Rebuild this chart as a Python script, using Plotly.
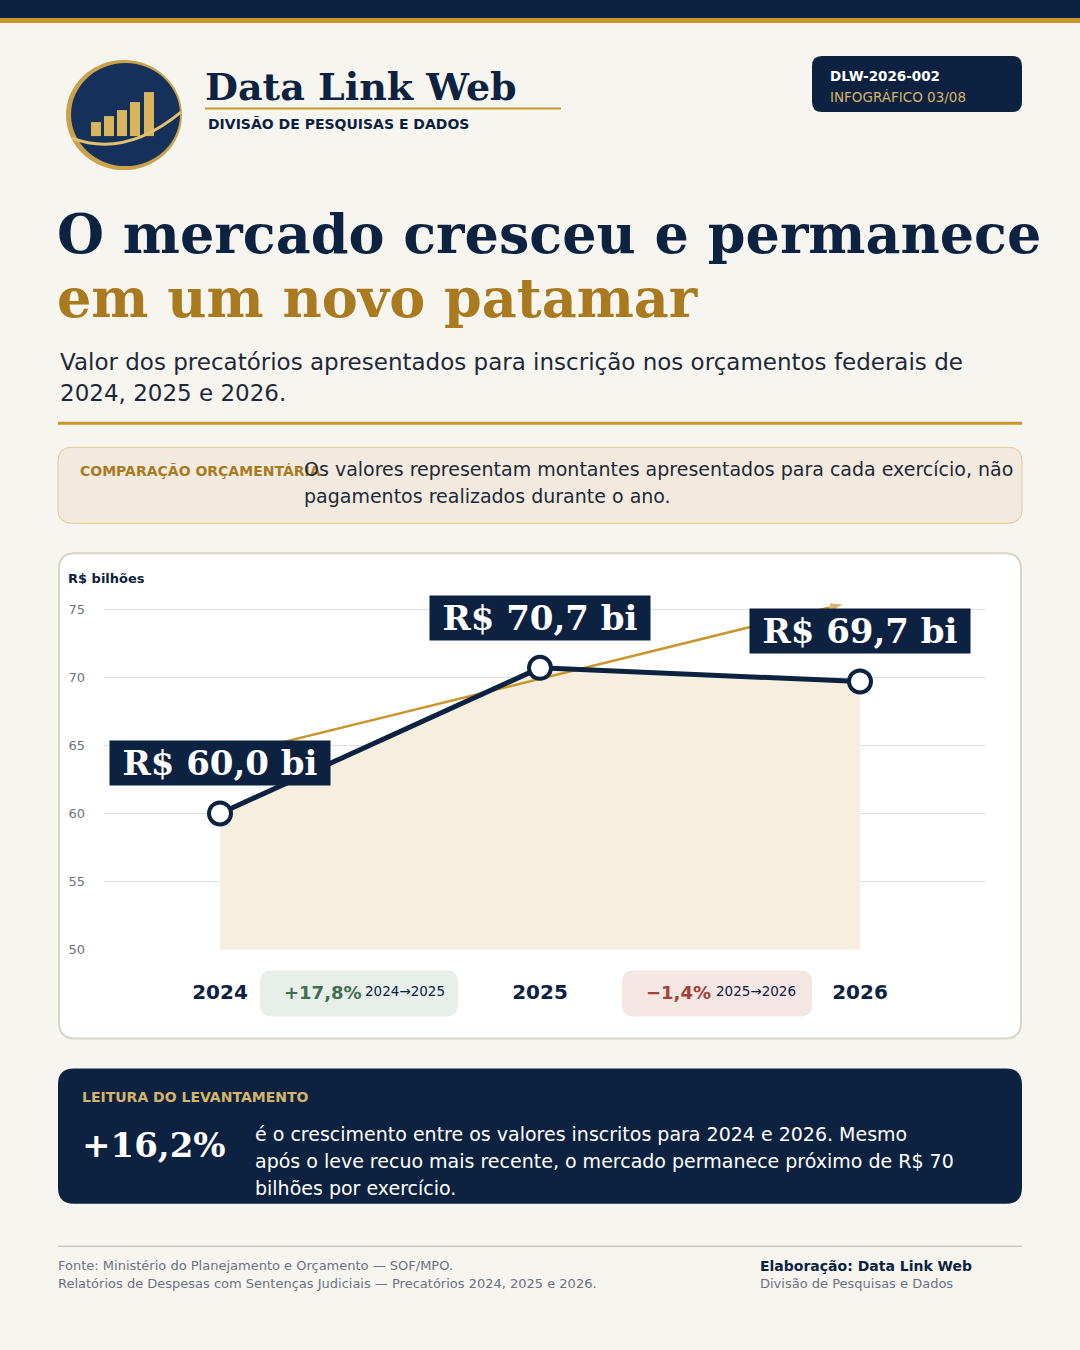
import plotly.graph_objects as go

# ---------------- data ----------------
years = [2024, 2025, 2026]
values = [60.0, 70.7, 69.7]
value_labels = ["R$ 60,0 bi", "R$ 70,7 bi", "R$ 69,7 bi"]
year_labels = ["2024", "2025", "2026"]
y_ticks = [50, 55, 60, 65, 70, 75]
trend_x = [2024.0, 2025.95]
trend_y = [64.1, 75.4]
changes = ["+17,8%", "\u22121,4%"]
change_periods = ["2024\u21922025", "2025\u21922026"]

# ---------------- style ----------------
W, H = 1080, 1350
K = 0.9935  # vertical compensation for the capture
NAVY = "#0D2240"
GOLD = "#C9962E"
GOLD_DARK = "#A97A1E"
BG = "#F7F5F0"
SERIF = "DejaVu Serif"
SANS = "DejaVu Sans"


def X(p):
    return p / W


def Y(p):
    return 1 - (p / K) / H


def rrect(x0, y0, x1, y1, r, fill, line=None, lw=0):
    path = (
        f"M {X(x0+r)},{Y(y0)} L {X(x1-r)},{Y(y0)} Q {X(x1)},{Y(y0)} {X(x1)},{Y(y0+r)} "
        f"L {X(x1)},{Y(y1-r)} Q {X(x1)},{Y(y1)} {X(x1-r)},{Y(y1)} "
        f"L {X(x0+r)},{Y(y1)} Q {X(x0)},{Y(y1)} {X(x0)},{Y(y1-r)} "
        f"L {X(x0)},{Y(y0+r)} Q {X(x0)},{Y(y0)} {X(x0+r)},{Y(y0)} Z"
    )
    return dict(type="path", path=path, xref="paper", yref="paper", fillcolor=fill,
                line=dict(color=line if line else fill, width=lw), layer="below")


def rect(x0, y0, x1, y1, fill):
    return dict(type="rect", xref="paper", yref="paper", x0=X(x0), x1=X(x1), y0=Y(y1), y1=Y(y0),
                fillcolor=fill, line=dict(width=0), layer="below")


def hline(x0, x1, y, color, w):
    return dict(type="line", xref="paper", yref="paper", x0=X(x0), x1=X(x1), y0=Y(y), y1=Y(y),
                line=dict(color=color, width=w), layer="below")


def txt(x, y, text, size, color, family=SANS, weight="normal", xanchor="left", yanchor="middle"):
    dx = -2 if xanchor == "left" else 0
    return dict(x=X(x + dx), y=Y(y), xref="paper", yref="paper", text=text, showarrow=False,
                xanchor=xanchor, yanchor=yanchor, align="left",
                font=dict(family=family, size=size, color=color, weight=weight))


fig = go.Figure()

# fill area under the series
fig.add_trace(go.Scatter(x=years, y=values, mode="lines", line=dict(width=0),
                         fill="tozeroy", fillcolor="#F6EEDF", hoverinfo="skip", showlegend=False))
# trend arrow
fig.add_trace(go.Scatter(x=trend_x, y=trend_y, mode="lines+markers",
                         line=dict(color=GOLD, width=2.5),
                         marker=dict(symbol="arrow", size=[0, 15], angleref="previous", color=GOLD),
                         cliponaxis=False, hoverinfo="skip", showlegend=False))
# main series
fig.add_trace(go.Scatter(x=years, y=values, mode="lines+markers",
                         line=dict(color=NAVY, width=5),
                         marker=dict(size=22, color="white", line=dict(color=NAVY, width=4)),
                         cliponaxis=False, showlegend=False))

shapes = []
# top bars
shapes.append(rect(0, 0, 1080, 18, NAVY))
shapes.append(rect(0, 18, 1080, 23, GOLD))

# logo (decorative)
shapes.append(dict(type="circle", xref="paper", yref="paper", x0=X(66), x1=X(182), y0=Y(170), y1=Y(60),
                   fillcolor="#C9A24A", line=dict(width=0), layer="below"))
shapes.append(dict(type="circle", xref="paper", yref="paper", x0=X(71), x1=X(180), y0=Y(166), y1=Y(63),
                   fillcolor="#15305A", line=dict(width=0), layer="below"))
for bx, bh in [(91, 14), (104, 20), (117, 26), (130, 34), (144, 44)]:
    shapes.append(rect(bx, 136 - bh, bx + 10, 136, "#D8B45C"))
shapes.append(dict(type="path", xref="paper", yref="paper",
                   path=f"M {X(72)},{Y(138)} Q {X(125)},{Y(158)} {X(181)},{Y(112)}",
                   line=dict(color="#E3C26E", width=3), layer="below"))

# header
shapes.append(hline(205, 561, 108.5, GOLD, 2))
shapes.append(rrect(812, 56, 1022, 112, 10, NAVY))
# title rule
shapes.append(hline(58, 1022, 423, GOLD, 3))
# comparison box
shapes.append(rrect(58, 447, 1022, 523, 14, "#F2EADF", "#E2CC92", 1))
# chart card
shapes.append(rrect(59, 553, 1021, 1038, 16, "white", "#D9D4C8", 2))
# change badges
shapes.append(rrect(260, 970, 458, 1016, 12, "#E8EFEA"))
shapes.append(rrect(622, 970, 812, 1016, 12, "#F4E6E3"))
# reading box
shapes.append(rrect(58, 1068, 1022, 1203, 16, NAVY))
# footer rule
shapes.append(hline(58, 1022, 1245.5, "#B8B4AA", 1))

ann = []
ann.append(txt(205, 86, "Data Link Web", 38, NAVY, SERIF, "bold"))
ann.append(txt(208, 124, "DIVIS\u00c3O DE PESQUISAS E DADOS", 14, NAVY, SANS, "bold"))
ann.append(txt(830, 76, "DLW-2026-002", 13.5, "white", SANS, "bold"))
ann.append(txt(830, 97, "INFOGR\u00c1FICO 03/08", 13.5, "#D6B46A"))
ann.append(txt(57, 234, "O mercado cresceu e permanece", 54, NAVY, SERIF, "bold"))
ann.append(txt(57, 298, "em um novo patamar", 54, GOLD_DARK, SERIF, "bold"))
ann.append(txt(60, 362, "Valor dos precat\u00f3rios apresentados para inscri\u00e7\u00e3o nos or\u00e7amentos federais de", 23, "#1F2937"))
ann.append(txt(60, 393, "2024, 2025 e 2026.", 23, "#1F2937"))
ann.append(txt(80, 471, "COMPARA\u00c7\u00c3O OR\u00c7AMENT\u00c1RIA", 14, "#A97A1E", SANS, "bold"))
ann.append(txt(304, 469, "Os valores representam montantes apresentados para cada exerc\u00edcio, n\u00e3o", 19, "#1F2937"))
ann.append(txt(304, 496, "pagamentos realizados durante o ano.", 19, "#1F2937"))
ann.append(txt(68, 578, "R$ bilh\u00f5es", 13, NAVY, SANS, "bold"))

# value labels (data anchored)
for xv, yv, lab in zip(years, values, value_labels):
    ann.append(dict(x=xv, y=yv, xref="x", yref="y", text=lab, showarrow=False, yshift=50 / K,
                    font=dict(family=SERIF, size=34, color="white", weight="bold"),
                    bgcolor=NAVY, borderpad=4, width=212, height=36))

# change badges
ann.append(txt(364, 992, changes[0], 18, "#3F6E50", SANS, "bold", xanchor="right"))
ann.append(txt(365, 990, change_periods[0], 13.5, NAVY))
ann.append(txt(713, 992, changes[1], 18, "#A0443A", SANS, "bold", xanchor="right"))
ann.append(txt(716, 990, change_periods[1], 13.5, NAVY))

# reading box
ann.append(txt(82, 1096, "LEITURA DO LEVANTAMENTO", 14, "#D6B46A", SANS, "bold"))
ann.append(txt(82, 1144, "+16,2%", 34, "white", SERIF, "bold"))
ann.append(txt(255, 1133, "\u00e9 o crescimento entre os valores inscritos para 2024 e 2026. Mesmo", 19, "white"))
ann.append(txt(255, 1160, "ap\u00f3s o leve recuo mais recente, o mercado permanece pr\u00f3ximo de R$ 70", 19, "white"))
ann.append(txt(255, 1187, "bilh\u00f5es por exerc\u00edcio.", 19, "white"))

# footer
ann.append(txt(58, 1265, "Fonte: Minist\u00e9rio do Planejamento e Or\u00e7amento \u2014 SOF/MPO.", 13, "#6B7280"))
ann.append(txt(58, 1283, "Relat\u00f3rios de Despesas com Senten\u00e7as Judiciais \u2014 Precat\u00f3rios 2024, 2025 e 2026.", 13, "#6B7280"))
ann.append(txt(760, 1265, "Elabora\u00e7\u00e3o: Data Link Web", 14, NAVY, SANS, "bold"))
ann.append(txt(760, 1283, "Divis\u00e3o de Pesquisas e Dados", 13, "#6B7280"))

px_per_year = 320
x0_val = years[0] - (220 - 104) / px_per_year
x1_val = years[-1] + (986 - 860) / px_per_year

fig.update_layout(
    width=W, height=H, autosize=False,
    margin=dict(l=0, r=0, t=0, b=0),
    paper_bgcolor=BG, plot_bgcolor="rgba(0,0,0,0)",
    shapes=shapes, annotations=ann,
    xaxis=dict(domain=[X(104), X(986)], range=[x0_val, x1_val], tickvals=years, ticktext=year_labels,
               showgrid=False, zeroline=False, showline=False, ticks="",
               tickfont=dict(family=SANS, size=20, color=NAVY, weight="bold"), ticklabelstandoff=28,
               fixedrange=True),
    yaxis=dict(domain=[Y(949), Y(949 - 26 * 13.6)], range=[50, 76], tickvals=y_ticks,
               showgrid=True, gridcolor="#DCE0E6", gridwidth=1, zeroline=False, showline=False,
               tickfont=dict(family=SANS, size=13, color="#6B7280"), ticklabelstandoff=18,
               fixedrange=True),
    hovermode=False,
)

fig.write_html(
    "out.html",
    config={"displayModeBar": False, "responsive": False},
    default_width="1080px", default_height="1350px",
    post_script=(
        "document.documentElement.style.margin='0';document.documentElement.style.padding='0';"
        "document.documentElement.style.overflow='hidden';"
        "document.documentElement.style.background='" + BG + "';"
        "document.body.style.margin='0';document.body.style.padding='0';"
        "document.body.style.overflow='hidden';document.body.style.height='1350px';"
        "var d=document.getElementById('{plot_id}');"
        "d.style.display='block';d.parentNode.style.height='1350px';d.parentNode.style.overflow='hidden';"
    ),
)
